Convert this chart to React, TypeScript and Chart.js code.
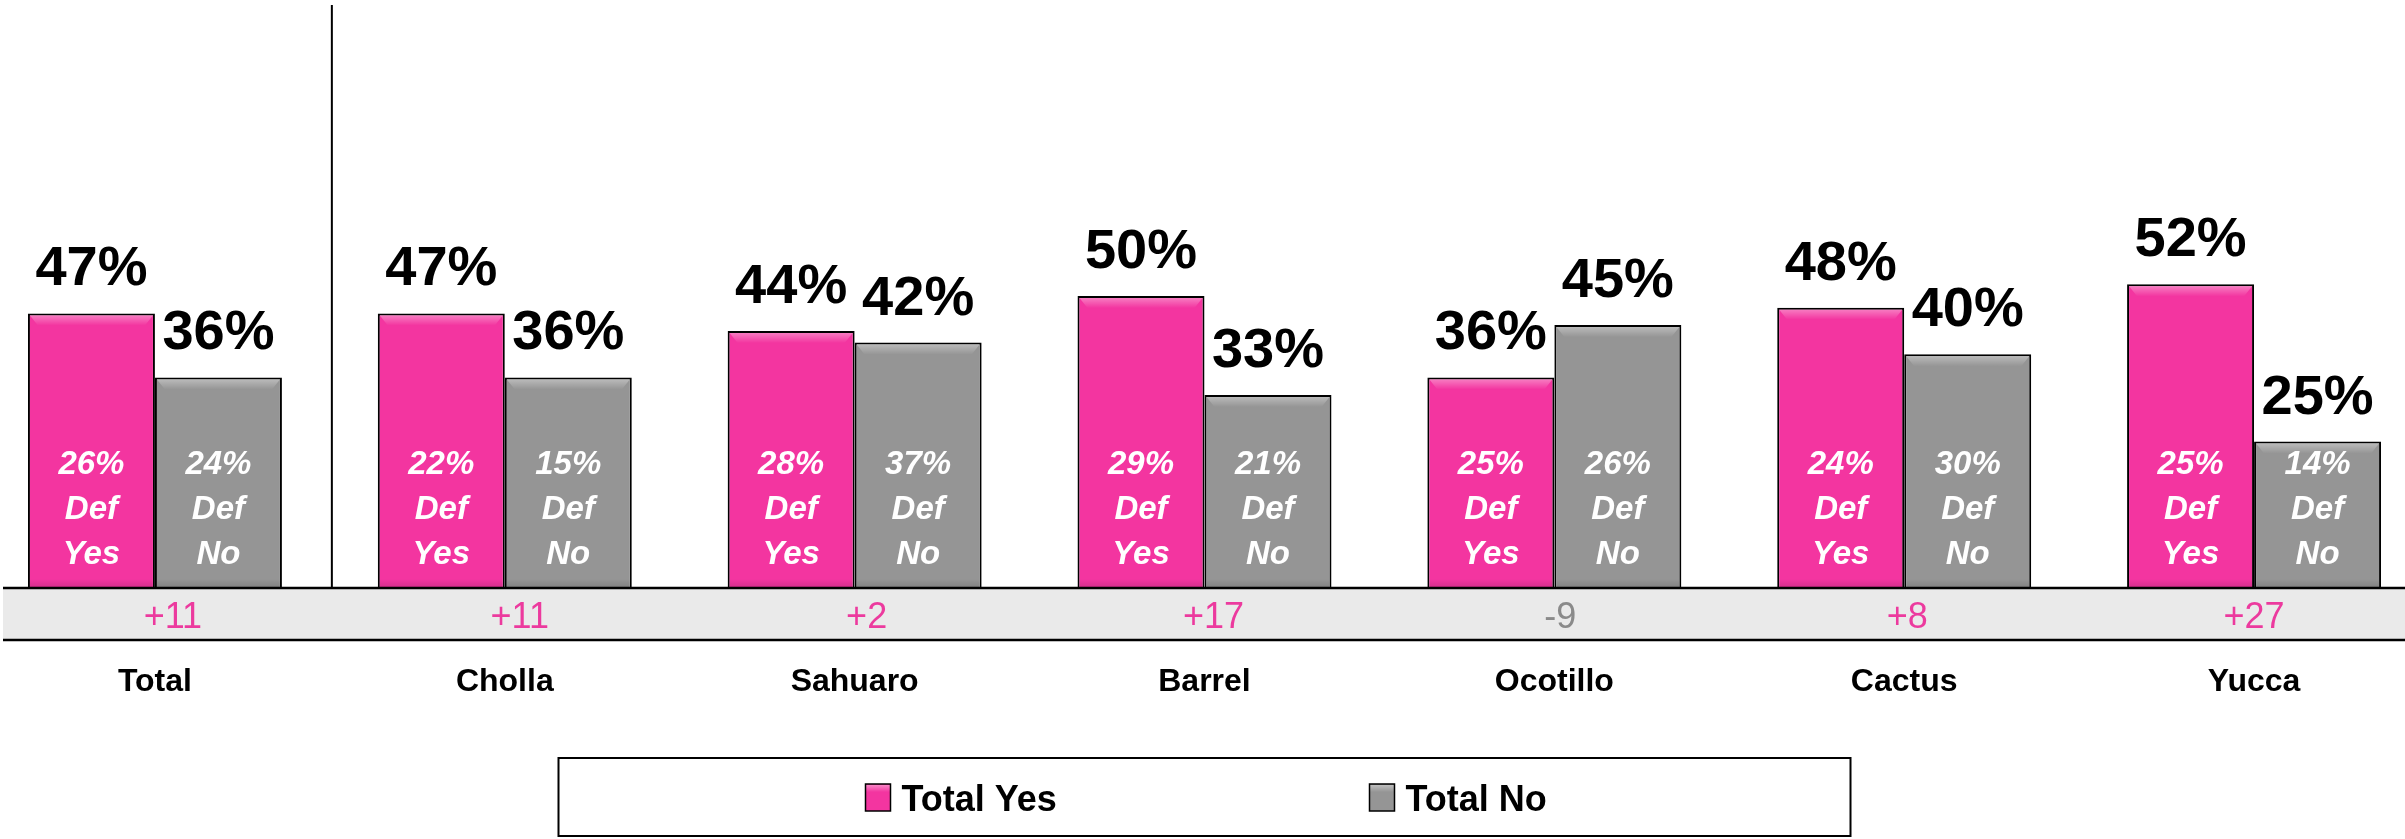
import React, { useEffect, useRef } from "react";
import { Chart, registerables } from "chart.js";

Chart.register(...registerables);

const categories = ["Total", "Cholla", "Sahuaro", "Barrel", "Ocotillo", "Cactus", "Yucca"];
const totalYes = [47, 47, 44, 50, 36, 48, 52];
const totalNo = [36, 36, 42, 33, 45, 40, 25];
const defYes = [26, 22, 28, 29, 25, 24, 25];
const defNo = [24, 15, 37, 21, 26, 30, 14];
const netDiff = [11, 11, 2, 17, -9, 8, 27];
const seriesNames = ["Total Yes", "Total No"];
const innerWords = ["Yes", "No"];

const PINK = "#F335A0";
const GRAY = "#959595";
const FONT = '"Liberation Sans", Arial, sans-serif';

export default function App() {
  const ref = useRef<HTMLCanvasElement>(null);

  useEffect(() => {
    const canvas = ref.current!;
    const defs = [defYes, defNo];

    const overlay = {
      id: "overlay",
      beforeDatasetsDraw(chart: any) {
        const ctx = chart.ctx;
        const area = chart.chartArea;
        const xs = chart.scales.x;
        const sepX = (xs.getPixelForValue(0) + xs.getPixelForValue(1)) / 2 + 2;
        ctx.save();
        ctx.strokeStyle = "#000";
        ctx.lineWidth = 2;
        ctx.beginPath();
        ctx.moveTo(sepX, area.top);
        ctx.lineTo(sepX, area.bottom + 1);
        ctx.stroke();
        ctx.restore();
      },
      afterDatasetsDraw(chart: any) {
        const ctx = chart.ctx;
        const area = chart.chartArea;
        const xs = chart.scales.x;
        ctx.save();

        // band under the bars
        const bandTop = area.bottom + 1;
        const bandBottom = area.bottom + 53;
        ctx.fillStyle = "#EAEAEA";
        ctx.fillRect(23, bandTop, chart.width - 23, bandBottom - bandTop);
        ctx.strokeStyle = "#000";
        ctx.lineWidth = 2.5;
        ctx.beginPath();
        ctx.moveTo(23, bandTop);
        ctx.lineTo(chart.width, bandTop);
        ctx.moveTo(23, bandBottom);
        ctx.lineTo(chart.width, bandBottom);
        ctx.stroke();

        // net difference values
        ctx.font = `36px ${FONT}`;
        ctx.textAlign = "center";
        ctx.textBaseline = "alphabetic";
        netDiff.forEach((d, i) => {
          const x = xs.getPixelForValue(i) + (6 - i) * 3;
          ctx.fillStyle = d >= 0 ? "#EC3A9E" : "#8A8A8A";
          ctx.fillText(d >= 0 ? `+${d}` : `${d}`, x, area.bottom + 41);
        });

        // bars: bevel + labels
        chart.data.datasets.forEach((ds: any, di: number) => {
          const meta = chart.getDatasetMeta(di);
          meta.data.forEach((bar: any, i: number) => {
            const { x, y, base, width } = bar.getProps(["x", "y", "base", "width"], true);
            const l = x - width / 2 + 2;
            const r = x + width / 2 - 2;
            const g = ctx.createLinearGradient(0, y + 2, 0, y + 12);
            g.addColorStop(0, "rgba(255,255,255,0.35)");
            g.addColorStop(1, "rgba(255,255,255,0)");
            ctx.fillStyle = g;
            ctx.beginPath();
            ctx.moveTo(l, y + 2);
            ctx.lineTo(r, y + 2);
            ctx.lineTo(r - 8, y + 12);
            ctx.lineTo(l + 8, y + 12);
            ctx.closePath();
            ctx.fill();
            const gb = ctx.createLinearGradient(0, base - 8, 0, base);
            gb.addColorStop(0, "rgba(0,0,0,0)");
            gb.addColorStop(1, "rgba(0,0,0,0.12)");
            ctx.fillStyle = gb;
            ctx.fillRect(l, base - 8, r - l, 8);

            // top value
            ctx.fillStyle = "#000";
            ctx.font = `bold 56px ${FONT}`;
            ctx.textAlign = "center";
            ctx.textBaseline = "alphabetic";
            ctx.fillText(`${ds.data[i]}%`, x, y - 28);

            // inner text
            ctx.fillStyle = "#FFFFFF";
            ctx.font = `italic bold 33px ${FONT}`;
            const lines = [`${defs[di][i]}%`, "Def", innerWords[di]];
            const centers = [base - 125, base - 80, base - 35];
            lines.forEach((t, k) => ctx.fillText(t, x, centers[k] + 12));
          });
        });

        // legend
        const cx = chart.width / 2;
        ctx.lineWidth = 2;
        ctx.strokeStyle = "#000";
        ctx.strokeRect(cx - 646, 758, 1292, 78);
        chart.data.datasets.forEach((ds: any, di: number) => {
          const sx = cx - 339 + di * 504;
          ctx.fillStyle = ds.backgroundColor;
          ctx.fillRect(sx, 784, 25, 27);
          const g = ctx.createLinearGradient(0, 785, 0, 792);
          g.addColorStop(0, "rgba(255,255,255,0.4)");
          g.addColorStop(1, "rgba(255,255,255,0)");
          ctx.fillStyle = g;
          ctx.fillRect(sx, 785, 25, 7);
          ctx.lineWidth = 1.5;
          ctx.strokeStyle = "#000";
          ctx.strokeRect(sx, 784, 25, 27);
          ctx.fillStyle = "#000";
          ctx.font = `bold 36px ${FONT}`;
          ctx.textAlign = "left";
          ctx.textBaseline = "alphabetic";
          ctx.fillText(ds.label, sx + 36, 811);
        });

        ctx.restore();
      },
    };

    const chart = new Chart(canvas, {
      type: "bar",
      data: {
        labels: categories,
        datasets: [
          {
            label: seriesNames[0],
            data: totalYes,
            backgroundColor: PINK,
            borderColor: "#000",
            borderWidth: 2,
            categoryPercentage: 0.726,
            barPercentage: 1,
          },
          {
            label: seriesNames[1],
            data: totalNo,
            backgroundColor: GRAY,
            borderColor: "#000",
            borderWidth: 2,
            categoryPercentage: 0.726,
            barPercentage: 1,
          },
        ],
      },
      options: {
        responsive: false,
        animation: false,
        devicePixelRatio: 1,
        layout: { padding: { top: 5, left: 0, right: 0, bottom: 61.6 } },
        plugins: { legend: { display: false }, tooltip: { enabled: false } },
        scales: {
          x: {
            grid: { display: false, drawTicks: false },
            border: { display: false },
            ticks: {
              padding: 76,
              color: "#000",
              font: { family: FONT, size: 32, weight: "bold" },
              maxRotation: 0,
              autoSkip: false,
            },
          },
          y: { display: false, min: 0, max: 100 },
        },
      },
      plugins: [overlay],
    });
    return () => chart.destroy();
  }, []);

  return (
    <div
      style={{
        position: "absolute",
        left: 0,
        top: 0,
        width: 2405,
        height: 839,
        overflow: "hidden",
        background: "#fff",
      }}
    >
      <div style={{ position: "absolute", left: -20, top: 0, width: 2449, height: 839 }}>
        <canvas ref={ref} width={2449} height={839} style={{ display: "block", width: 2449, height: 839 }} />
      </div>
    </div>
  );
}
